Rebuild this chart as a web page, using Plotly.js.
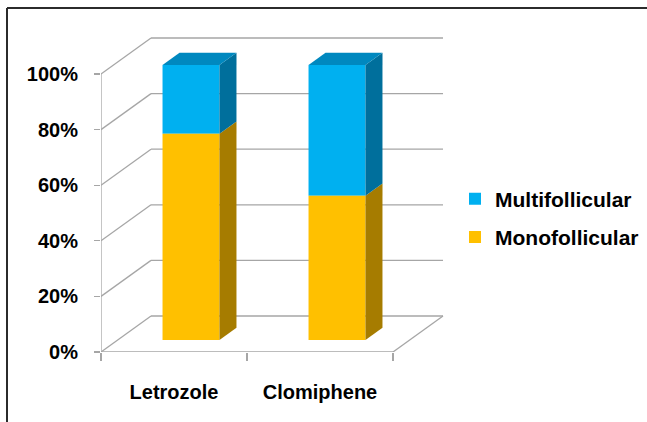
<!DOCTYPE html>
<html>
<head>
<meta charset="utf-8">
<script src="https://cdn.plot.ly/plotly-3.0.1.min.js"></script>
<style>html,body{margin:0;padding:0;background:#fff}#chart{width:647px;height:422px}</style>
</head>
<body>
<div id="chart"></div>
<script>
// ---- data ----
const categories = ['Letrozole', 'Clomiphene'];
const monofollicular = [75, 52.5];
const multifollicular = [25, 47.5];
const yTickVals = [0, 20, 40, 60, 80, 100];
const yTickText = ['0%', '20%', '40%', '60%', '80%', '100%'];
const seriesNames = ['Multifollicular', 'Monofollicular'];

// ---- style / geometry constants ----
const L = 101, T = 30, PW = 348, PH = 322;     // plot area in pixels
const XPX = 146, YPX = 2.78;                    // px per unit on the front plane
const BPX = 2.75, BAR0 = 340;                   // px per unit and zero line for the bars (perspective)
const DX = 0.3425, DY = 12.95;                  // full depth of the 3D box, data units (front axes)
const FRONT = 0.34;                             // bar front face depth fraction
const BARD = 0.34;                              // bar depth fraction
const W = 0.39;                                 // bar width
const gridColor = '#a6a6a6';
const colors = {
  mono: {front: '#FFC000', side: '#A67C00'},
  multi: {front: '#00B0F0', side: '#006F9C', top: '#0088BF'}
};
const font = 'Liberation Sans, Arial, sans-serif';

const idx = categories.map((c, i) => i);
const fx = FRONT * DX;
const sx = BARD * DX, sy = BARD * DY * YPX / BPX;

const monoBase = idx.map(() => 0);
const multiBase = idx.map(i => monofollicular[i]);
const barX = idx.map(i => i + fx);

const traces = [];
traces.push({
  type: 'bar', name: seriesNames[0], x: barX, y: multifollicular, base: multiBase, width: W,
  yaxis: 'y2', marker: {color: colors.multi.front, line: {width: 0}}, hoverinfo: 'skip',
  legendgroup: 'a', showlegend: true
});
traces.push({
  type: 'bar', name: seriesNames[1], x: barX, y: monofollicular, base: monoBase, width: W,
  yaxis: 'y2', marker: {color: colors.mono.front, line: {width: 0}}, hoverinfo: 'skip',
  legendgroup: 'b', showlegend: true
});

function sideFace(i, b, t, col) {
  const xr = i + fx + W / 2;
  return {
    type: 'scatter', mode: 'lines', fill: 'toself', fillcolor: col, yaxis: 'y2',
    line: {width: 0, color: col}, hoverinfo: 'skip', showlegend: false,
    x: [xr, xr + sx, xr + sx, xr, xr],
    y: [b, b + sy, t + sy, t, b]
  };
}
function topFace(i, t, col) {
  const xl = i + fx - W / 2, xr = i + fx + W / 2;
  return {
    type: 'scatter', mode: 'lines', fill: 'toself', fillcolor: col, yaxis: 'y2',
    line: {width: 0, color: col}, hoverinfo: 'skip', showlegend: false,
    x: [xl, xr, xr + sx, xl + sx, xl],
    y: [t, t, t + sy, t + sy, t]
  };
}
idx.forEach(i => {
  const b1 = monofollicular[i], b2 = b1 + multifollicular[i];
  traces.push(sideFace(i, 0, b1, colors.mono.side));
  traces.push(sideFace(i, b1, b2, colors.multi.side));
  traces.push(topFace(i, b2, colors.multi.top));
});

// ---- 3D box lines (shapes) ----
const shapes = [];
const gl = {color: gridColor, width: 1.3};
const x0 = -0.5, x1 = categories.length - 0.5;
yTickVals.forEach(v => {
  shapes.push({type: 'line', xref: 'x', yref: 'y', x0: x0 + DX, x1: x1 + DX, y0: v + DY, y1: v + DY, line: gl, layer: 'below'});
  shapes.push({type: 'line', xref: 'x', yref: 'y', x0: x0, x1: x0 + DX, y0: v, y1: v + DY, line: gl, layer: 'below'});
});
shapes.push({type: 'line', xref: 'x', yref: 'y', x0: x1, x1: x1 + DX, y0: 0, y1: DY, line: gl, layer: 'below'});
shapes.push({type: 'line', xref: 'x', yref: 'y', x0: x0, x1: x1, y0: 0, y1: 0, line: gl, layer: 'below'});
shapes.push({type: 'line', xref: 'x', yref: 'y', x0: x0, x1: x0, y0: 0, y1: 100, line: gl, layer: 'below'});
// outer frame (top and left)
const px = p => (p - L) / PW, py = p => (T + PH - p) / PH;
const frame = {color: '#2b2b2b', width: 2};
shapes.push({type: 'line', xref: 'paper', yref: 'paper', x0: px(7), x1: px(650), y0: py(8), y1: py(8), line: frame});
shapes.push({type: 'line', xref: 'paper', yref: 'paper', x0: px(7), x1: px(7), y0: py(8), y1: py(425), line: frame});

const xr = [x0, x0 + PW / XPX];
const layout = {
  width: 647, height: 422,
  margin: {l: L, r: 647 - L - PW, t: T, b: 422 - T - PH, pad: 0},
  paper_bgcolor: '#fff', plot_bgcolor: 'rgba(0,0,0,0)',
  barmode: 'overlay',
  showlegend: true,
  legend: {
    xref: 'container', yref: 'container', x: 455 / 647, y: 1 - 218 / 422,
    xanchor: 'left', yanchor: 'middle', traceorder: 'grouped', tracegroupgap: 8,
    font: {family: font, size: 21, color: '#000', weight: 'bold'}, bgcolor: 'rgba(0,0,0,0)'
  },
  xaxis: {
    range: xr, tickvals: idx, ticktext: categories,
    showgrid: false, zeroline: false, showline: false, ticks: '',
    tickfont: {family: font, size: 20, color: '#000', weight: 'bold'},
    ticklabelstandoff: 26, fixedrange: true
  },
  xaxis2: {
    overlaying: 'x', anchor: 'y', side: 'bottom',
    range: xr, tickvals: [-0.5, 0.5, 1.5], showticklabels: false,
    ticks: 'outside', ticklen: 8, tickcolor: gridColor, tickwidth: 1.3,
    showgrid: false, zeroline: false, showline: false
  },
  yaxis: {
    range: [0, PH / YPX], tickvals: yTickVals, ticktext: yTickText,
    ticks: 'outside', ticklen: 6, tickcolor: gridColor, tickwidth: 1.3,
    showgrid: false, zeroline: false, showline: false,
    tickfont: {family: font, size: 20, color: '#000', weight: 'bold'},
    ticklabelstandoff: 12, fixedrange: true
  },
  yaxis2: {
    overlaying: 'y', anchor: 'x', side: 'left',
    range: [-(T + PH - BAR0) / BPX, (BAR0 - T) / BPX],
    showticklabels: false, ticks: '', showgrid: false, zeroline: false, showline: false
  },
  shapes: shapes
};

// invisible trace to activate xaxis2
traces.push({type: 'scatter', x: [0], y: [0], xaxis: 'x2', yaxis: 'y', mode: 'markers', marker: {opacity: 0}, showlegend: false, hoverinfo: 'skip'});

Plotly.newPlot('chart', traces, layout, {staticPlot: true, displayModeBar: false});
</script>
</body>
</html>
